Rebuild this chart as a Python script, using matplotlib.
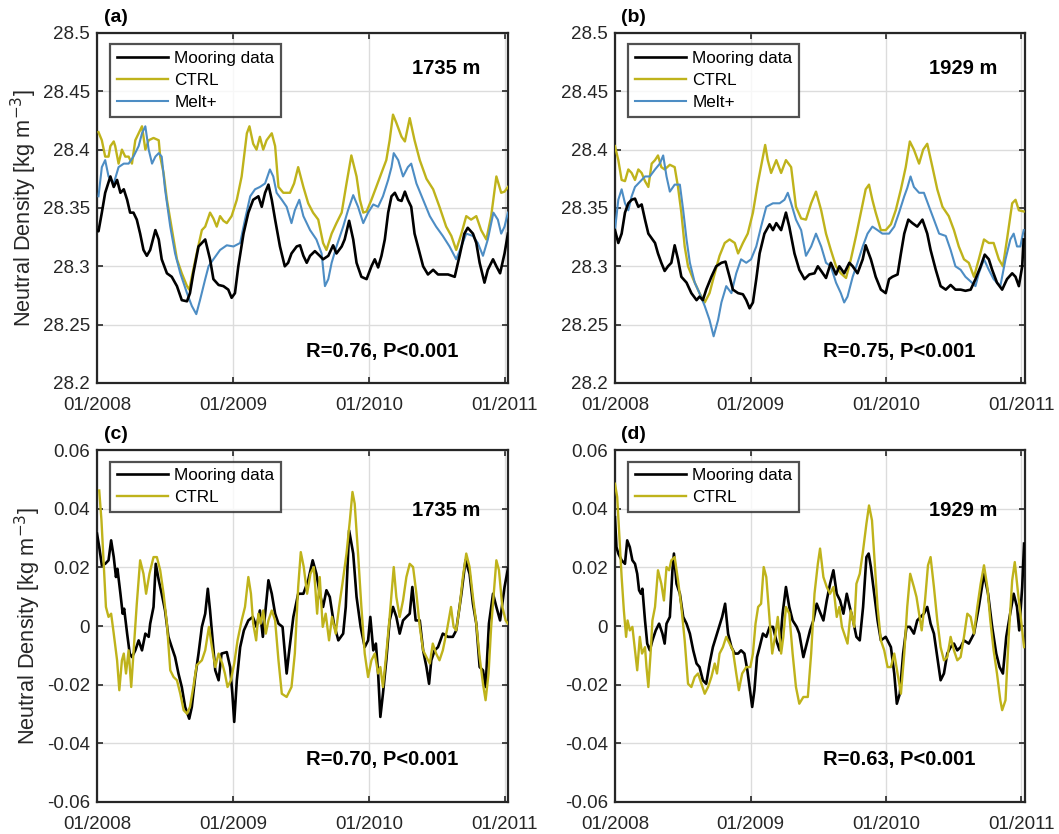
import numpy as np
import matplotlib
matplotlib.use("Agg")
import matplotlib.pyplot as plt
import matplotlib.dates as mdates
from matplotlib.ticker import FuncFormatter

plt.rcParams['font.family'] = ['Liberation Sans', 'DejaVu Sans']

# days since 01/01/2008
# ---- panel (a), 1735 m, neutral density
a_moor_day = [0, 4, 13, 22, 36, 45, 54, 63, 72, 81, 89, 98, 107, 116, 125, 134, 143, 157, 166, 174,
              188, 201, 215, 228, 242, 250, 259, 273, 291, 304, 313, 327, 340, 353, 362, 371, 380, 394,
              407, 420, 434, 443, 452, 461, 470, 479, 492, 505, 514, 523, 537, 546, 555, 564, 573, 586,
              599, 608, 622, 635, 644, 658, 666, 678, 689, 698, 711, 725, 738, 747, 756, 765, 774, 783,
              792, 801, 810, 819, 828, 836, 845, 854, 868, 877, 890, 904, 917, 930, 944, 962, 975, 988,
              997, 1011, 1020, 1029, 1042, 1051, 1065, 1074, 1084, 1096, 1105]
a_moor = [28.331, 28.330, 28.346, 28.363, 28.377, 28.368, 28.374, 28.363, 28.366, 28.357, 28.346, 28.346,
          28.340, 28.328, 28.314, 28.309, 28.314, 28.331, 28.323, 28.306, 28.294, 28.291, 28.283, 28.271,
          28.270, 28.277, 28.294, 28.317, 28.323, 28.306, 28.289, 28.284, 28.283, 28.280, 28.273, 28.277,
          28.300, 28.328, 28.346, 28.357, 28.360, 28.351, 28.363, 28.370, 28.357, 28.340, 28.317, 28.300,
          28.303, 28.311, 28.317, 28.318, 28.309, 28.303, 28.309, 28.313, 28.309, 28.306, 28.309, 28.318,
          28.311, 28.317, 28.323, 28.339, 28.323, 28.303, 28.291, 28.289, 28.300, 28.306, 28.299, 28.309,
          28.323, 28.346, 28.360, 28.363, 28.357, 28.356, 28.364, 28.357, 28.351, 28.328, 28.311, 28.300,
          28.293, 28.297, 28.293, 28.293, 28.293, 28.291, 28.309, 28.328, 28.333, 28.328, 28.320, 28.303,
          28.286, 28.297, 28.306, 28.300, 28.294, 28.311, 28.328]

a_ctrl_day = [4, 13, 22, 31, 36, 45, 49, 58, 67, 76, 85, 94, 103, 112, 121, 130, 139, 152, 166, 170, 179,
              188, 197, 206, 215, 228, 242, 248, 255, 268, 282, 291, 304, 313, 322, 331, 340, 349, 362,
              376, 389, 403, 410, 420, 429, 438, 447, 456, 470, 479, 488, 501, 519, 530, 541, 555, 568,
              581, 595, 608, 617, 631, 644, 658, 671, 684, 698, 707, 716, 725, 738, 751, 765, 778, 787,
              796, 805, 819, 828, 841, 854, 868, 886, 904, 921, 939, 953, 966, 980, 993, 1006, 1020, 1033,
              1047, 1060, 1074, 1087, 1096, 1105]
a_ctrl = [28.415, 28.408, 28.394, 28.394, 28.403, 28.407, 28.403, 28.388, 28.400, 28.394, 28.394, 28.388,
          28.408, 28.414, 28.420, 28.400, 28.408, 28.410, 28.408, 28.394, 28.380, 28.357, 28.340, 28.323,
          28.306, 28.294, 28.283, 28.280, 28.291, 28.311, 28.331, 28.334, 28.346, 28.341, 28.334, 28.343,
          28.339, 28.337, 28.343, 28.357, 28.377, 28.414, 28.420, 28.405, 28.400, 28.411, 28.400, 28.408,
          28.414, 28.403, 28.368, 28.363, 28.363, 28.371, 28.385, 28.368, 28.354, 28.346, 28.340, 28.320,
          28.314, 28.328, 28.337, 28.346, 28.371, 28.395, 28.377, 28.357, 28.346, 28.347, 28.357, 28.368,
          28.380, 28.391, 28.408, 28.430, 28.423, 28.411, 28.407, 28.427, 28.408, 28.391, 28.375, 28.366,
          28.351, 28.334, 28.326, 28.314, 28.328, 28.343, 28.340, 28.343, 28.331, 28.323, 28.343, 28.377,
          28.363, 28.364, 28.368]

a_melt_day = [4, 13, 22, 31, 45, 58, 72, 85, 98, 112, 121, 130, 139, 148, 157, 166, 174, 183, 197, 210,
              224, 242, 255, 267, 277, 291, 300, 313, 331, 349, 367, 385, 398, 412, 425, 438, 452, 465,
              474, 483, 497, 510, 523, 532, 544, 555, 573, 590, 604, 613, 622, 631, 644, 662, 675, 689,
              702, 716, 729, 743, 756, 769, 783, 792, 798, 810, 823, 836, 845, 859, 877, 895, 912, 930,
              948, 966, 980, 993, 1011, 1024, 1038, 1051, 1066, 1078, 1087, 1096, 1105]
a_melt = [28.360, 28.385, 28.391, 28.377, 28.371, 28.385, 28.388, 28.388, 28.394, 28.403, 28.414, 28.420,
          28.400, 28.388, 28.394, 28.397, 28.394, 28.366, 28.334, 28.311, 28.294, 28.277, 28.266, 28.259,
          28.271, 28.289, 28.300, 28.306, 28.314, 28.318, 28.317, 28.320, 28.340, 28.360, 28.366, 28.368,
          28.371, 28.383, 28.377, 28.363, 28.357, 28.351, 28.337, 28.348, 28.357, 28.343, 28.331, 28.323,
          28.311, 28.283, 28.289, 28.303, 28.317, 28.334, 28.348, 28.361, 28.351, 28.337, 28.346, 28.353,
          28.351, 28.360, 28.374, 28.385, 28.397, 28.391, 28.377, 28.385, 28.388, 28.371, 28.357, 28.343,
          28.334, 28.326, 28.317, 28.306, 28.317, 28.328, 28.326, 28.320, 28.309, 28.323, 28.346, 28.340,
          28.328, 28.334, 28.346]

# ---- panel (b), 1929 m, neutral density
b_moor_day = [0, 9, 18, 27, 36, 45, 54, 63, 72, 81, 90, 99, 108, 116, 125, 134, 143, 152, 161, 170, 179,
              193, 206, 220, 228, 237, 246, 260, 273, 287, 298, 309, 318, 332, 345, 354, 363, 372, 381,
              390, 403, 417, 426, 435, 448, 461, 470, 484, 497, 511, 524, 538, 547, 556, 569, 582, 596,
              605, 618, 632, 641, 654, 668, 676, 690, 703, 717, 730, 739, 748, 762, 771, 780, 791, 802,
              815, 829, 842, 851, 865, 878, 892, 905, 918, 932, 945, 959, 972, 986, 997, 1008, 1017, 1030,
              1044, 1057, 1071, 1080, 1089, 1098, 1102]
b_moor = [28.331, 28.320, 28.328, 28.346, 28.354, 28.357, 28.358, 28.351, 28.353, 28.340, 28.328, 28.324,
          28.320, 28.311, 28.303, 28.296, 28.300, 28.303, 28.318, 28.306, 28.291, 28.286, 28.277, 28.271,
          28.274, 28.271, 28.280, 28.291, 28.300, 28.303, 28.304, 28.291, 28.280, 28.277, 28.276, 28.271,
          28.264, 28.269, 28.289, 28.311, 28.328, 28.336, 28.331, 28.337, 28.331, 28.346, 28.334, 28.311,
          28.297, 28.289, 28.293, 28.294, 28.300, 28.296, 28.290, 28.303, 28.293, 28.300, 28.294, 28.303,
          28.300, 28.294, 28.306, 28.318, 28.306, 28.291, 28.280, 28.277, 28.289, 28.291, 28.293, 28.311,
          28.328, 28.340, 28.337, 28.334, 28.340, 28.328, 28.314, 28.297, 28.283, 28.280, 28.284, 28.280,
          28.280, 28.279, 28.280, 28.289, 28.300, 28.310, 28.306, 28.297, 28.286, 28.280, 28.289, 28.294,
          28.291, 28.283, 28.300, 28.323]

b_ctrl_day = [0, 9, 18, 27, 36, 45, 54, 63, 72, 81, 90, 99, 108, 116, 125, 134, 148, 161, 170, 179, 188,
              197, 211, 228, 242, 255, 269, 282, 296, 309, 323, 332, 345, 358, 372, 385, 399, 405, 412,
              421, 435, 448, 461, 475, 488, 502, 515, 529, 542, 556, 569, 582, 596, 609, 623, 636, 650,
              663, 676, 685, 694, 703, 717, 730, 744, 757, 771, 784, 795, 806, 820, 831, 842, 856, 869,
              883, 900, 914, 927, 941, 954, 968, 981, 995, 1008, 1021, 1035, 1046, 1057, 1071, 1080, 1089,
              1102]
b_ctrl = [28.403, 28.391, 28.374, 28.373, 28.383, 28.380, 28.374, 28.383, 28.380, 28.373, 28.368, 28.388,
          28.391, 28.395, 28.385, 28.383, 28.387, 28.385, 28.368, 28.346, 28.317, 28.300, 28.289, 28.277,
          28.269, 28.277, 28.294, 28.309, 28.320, 28.323, 28.320, 28.311, 28.320, 28.328, 28.346, 28.371,
          28.394, 28.404, 28.391, 28.380, 28.391, 28.380, 28.391, 28.385, 28.351, 28.341, 28.340, 28.354,
          28.364, 28.348, 28.328, 28.314, 28.300, 28.294, 28.290, 28.306, 28.326, 28.346, 28.366, 28.370,
          28.357, 28.346, 28.331, 28.331, 28.336, 28.348, 28.366, 28.385, 28.407, 28.400, 28.388, 28.400,
          28.405, 28.385, 28.366, 28.351, 28.343, 28.331, 28.317, 28.306, 28.303, 28.291, 28.306, 28.323,
          28.320, 28.320, 28.306, 28.300, 28.323, 28.354, 28.357, 28.348, 28.347]

b_melt_day = [0, 9, 18, 27, 36, 45, 54, 63, 72, 81, 94, 108, 121, 130, 139, 148, 161, 175, 184, 193, 202,
              215, 228, 242, 255, 266, 278, 287, 300, 314, 327, 340, 354, 367, 381, 394, 408, 426, 444,
              457, 466, 475, 488, 502, 515, 529, 542, 556, 569, 582, 596, 609, 618, 627, 641, 654, 668,
              681, 694, 708, 721, 739, 753, 766, 780, 788, 797, 806, 820, 833, 847, 860, 874, 892, 905,
              918, 932, 945, 959, 972, 981, 995, 1008, 1021, 1039, 1053, 1066, 1075, 1084, 1093, 1102]
b_melt = [28.331, 28.357, 28.366, 28.354, 28.348, 28.360, 28.368, 28.371, 28.374, 28.377, 28.377, 28.383,
          28.388, 28.395, 28.377, 28.364, 28.370, 28.370, 28.348, 28.323, 28.303, 28.286, 28.277, 28.266,
          28.254, 28.240, 28.254, 28.269, 28.283, 28.277, 28.294, 28.306, 28.303, 28.306, 28.317, 28.334,
          28.351, 28.354, 28.354, 28.357, 28.363, 28.354, 28.340, 28.331, 28.309, 28.317, 28.328, 28.317,
          28.303, 28.300, 28.286, 28.277, 28.269, 28.274, 28.291, 28.303, 28.317, 28.328, 28.334, 28.331,
          28.328, 28.328, 28.334, 28.346, 28.360, 28.367, 28.377, 28.368, 28.363, 28.363, 28.351, 28.340,
          28.328, 28.326, 28.314, 28.300, 28.297, 28.291, 28.287, 28.283, 28.294, 28.306, 28.297, 28.289,
          28.283, 28.306, 28.323, 28.328, 28.317, 28.317, 28.331]

# ---- panel (c), 1735 m, anomalies
c_moor_day = [0, 6, 13, 22, 31, 38, 45, 51, 55, 63, 69, 73, 81, 88, 94, 103, 112, 121, 130, 139, 143, 152,
              158, 166, 174, 183, 192, 201, 210, 219, 228, 237, 248, 255, 264, 273, 282, 291, 298, 304,
              311, 318, 327, 335, 349, 358, 364, 369, 376, 385, 395, 407, 419, 429, 438, 446, 454, 461,
              470, 479, 488, 499, 510, 517, 528, 541, 555, 568, 580, 590, 599, 608, 617, 626, 637, 649,
              662, 669, 678, 689, 698, 709, 720, 729, 735, 743, 750, 756, 762, 769, 778, 787, 796, 805,
              814, 823, 832, 841, 848, 857, 868, 877, 886, 893, 899, 908, 917, 930, 944, 957, 966, 980,
              991, 1002, 1011, 1020, 1029, 1038, 1045, 1054, 1065, 1074, 1084, 1096, 1105]
c_moor = [0.0315, 0.0269, 0.0207, 0.0212, 0.0224, 0.0292, 0.0235, 0.0167, 0.0195, 0.0110, 0.0042, 0.0059,
          -0.0026, -0.0094, -0.0106, -0.0083, -0.0049, -0.0083, -0.0026, -0.0037, 0.0008, 0.0065, 0.0212,
          0.0156, 0.0110, 0.0053, -0.0037, -0.0072, -0.0106, -0.0162, -0.0208, -0.0276, -0.0316, -0.0276,
          -0.0174, -0.0094, -0.0003, 0.0042, 0.0127, 0.0053, -0.0049, -0.0151, -0.0185, -0.0094, -0.0089,
          -0.0140, -0.0231, -0.0327, -0.0185, -0.0072, -0.0015, 0.0019, 0.0031, -0.0003, 0.0053, -0.0037,
          0.0065, 0.0156, 0.0110, 0.0042, 0.0008, -0.0003, -0.0162, -0.0083, 0.0031, 0.0110, 0.0110, 0.0156,
          0.0224, 0.0178, 0.0110, 0.0065, 0.0122, 0.0099, 0.0008, -0.0049, -0.0026, 0.0065, 0.0326, 0.0247,
          0.0099, -0.0003, -0.0072, -0.0049, 0.0031, -0.0083, -0.0060, -0.0162, -0.0310, -0.0231, -0.0117,
          0.0019, 0.0065, 0.0031, -0.0026, 0.0019, 0.0031, 0.0042, 0.0133, 0.0019, 0.0019, -0.0083, -0.0140,
          -0.0197, -0.0117, -0.0083, -0.0072, -0.0026, -0.0037, -0.0037, -0.0015, 0.0110, 0.0224, 0.0178,
          0.0076, 0.0008, -0.0140, -0.0151, -0.0208, 0.0008, 0.0110, 0.0065, 0.0019, 0.0133, 0.0195]

c_ctrl_day = [6, 12, 18, 24, 31, 38, 45, 54, 60, 67, 72, 78, 85, 92, 98, 107, 116, 125, 132, 141, 152, 161,
              170, 179, 188, 197, 206, 215, 224, 233, 242, 250, 259, 268, 282, 291, 301, 309, 318, 327,
              337, 344, 351, 360, 369, 378, 389, 398, 407, 414, 420, 428, 434, 440, 447, 454, 461, 470,
              479, 488, 497, 510, 523, 532, 541, 548, 556, 565, 574, 583, 592, 599, 607, 615, 624, 632,
              642, 651, 660, 671, 680, 687, 693, 702, 711, 720, 729, 738, 747, 756, 762, 769, 778, 787,
              798, 805, 814, 823, 832, 841, 850, 859, 868, 877, 886, 895, 903, 912, 921, 930, 941, 952,
              959, 966, 975, 984, 993, 1002, 1011, 1020, 1029, 1038, 1045, 1053, 1060, 1067, 1074, 1081,
              1090, 1099, 1105]
c_ctrl = [0.0462, 0.0360, 0.0212, 0.0065, 0.0031, 0.0042, -0.0026, -0.0117, -0.0219, -0.0117, -0.0094,
          -0.0162, -0.0083, -0.0208, -0.0094, 0.0076, 0.0224, 0.0178, 0.0110, 0.0178, 0.0235, 0.0235,
          0.0190, 0.0110, 0.0008, -0.0151, -0.0174, -0.0185, -0.0231, -0.0287, -0.0299, -0.0276, -0.0208,
          -0.0134, -0.0117, -0.0083, -0.0003, -0.0072, -0.0140, -0.0094, -0.0128, -0.0162, -0.0208,
          -0.0185, -0.0128, -0.0049, 0.0019, 0.0065, 0.0167, 0.0110, 0.0008, -0.0049, 0.0042, 0.0008,
          0.0053, -0.0026, 0.0019, 0.0053, 0.0019, -0.0117, -0.0231, -0.0242, -0.0208, -0.0094, 0.0133,
          0.0252, 0.0201, 0.0110, 0.0178, 0.0201, 0.0042, 0.0167, -0.0003, 0.0042, -0.0049, 0.0031,
          -0.0026, 0.0065, 0.0144, 0.0247, 0.0360, 0.0457, 0.0417, 0.0247, 0.0065, -0.0094, -0.0174,
          -0.0117, -0.0094, -0.0162, -0.0140, -0.0208, -0.0094, 0.0031, 0.0201, 0.0099, 0.0031, 0.0087,
          0.0167, 0.0212, 0.0201, 0.0110, -0.0003, -0.0083, -0.0106, -0.0128, -0.0060, -0.0094, -0.0117,
          -0.0083, -0.0015, 0.0065, -0.0003, -0.0015, 0.0065, 0.0167, 0.0247, 0.0201, 0.0099, 0.0008,
          -0.0106, -0.0197, -0.0253, -0.0162, -0.0003, 0.0110, 0.0224, 0.0190, 0.0065, 0.0019, 0.0008]

# ---- panel (d), 1929 m, anomalies
d_moor_day = [0, 4, 9, 18, 27, 33, 40, 47, 54, 60, 65, 70, 74, 81, 87, 94, 101, 110, 119, 128, 134, 139,
              148, 155, 159, 166, 175, 184, 193, 202, 211, 220, 228, 237, 246, 255, 264, 278, 289, 297,
              305, 314, 323, 332, 340, 349, 357, 363, 370, 376, 383, 390, 399, 408, 417, 426, 435, 444,
              452, 461, 470, 479, 490, 497, 508, 517, 526, 535, 544, 551, 562, 571, 580, 589, 598, 607,
              616, 625, 633, 642, 651, 660, 669, 678, 684, 690, 699, 708, 717, 730, 744, 753, 760, 768,
              777, 786, 795, 806, 815, 824, 833, 842, 851, 860, 869, 878, 887, 896, 905, 914, 923, 932,
              941, 954, 968, 981, 995, 1006, 1017, 1028, 1037, 1046, 1055, 1064, 1075, 1084, 1090, 1098,
              1103]
d_moor = [0.0371, 0.0269, 0.0247, 0.0224, 0.0212, 0.0292, 0.0269, 0.0224, 0.0212, 0.0178, 0.0122, 0.0110,
          0.0127, 0.0019, -0.0060, -0.0083, -0.0049, -0.0015, 0.0008, -0.0026, -0.0060, 0.0008, 0.0031,
          0.0190, 0.0247, 0.0144, 0.0110, 0.0031, 0.0008, -0.0026, -0.0083, -0.0128, -0.0140, -0.0185,
          -0.0197, -0.0128, -0.0072, -0.0015, 0.0031, 0.0076, -0.0026, -0.0072, -0.0094, -0.0094, -0.0083,
          -0.0094, -0.0151, -0.0208, -0.0276, -0.0219, -0.0106, -0.0072, -0.0026, -0.0037, -0.0003,
          -0.0003, -0.0049, -0.0083, 0.0042, 0.0133, 0.0065, 0.0019, -0.0003, -0.0026, -0.0106, -0.0060,
          -0.0015, 0.0019, 0.0076, 0.0053, 0.0019, 0.0087, 0.0144, 0.0190, 0.0110, 0.0087, 0.0042, 0.0110,
          0.0065, 0.0019, -0.0037, -0.0049, 0.0065, 0.0235, 0.0247, 0.0201, 0.0110, 0.0019, -0.0049,
          -0.0037, -0.0072, -0.0162, -0.0265, -0.0231, -0.0094, -0.0003, -0.0003, -0.0026, 0.0019, 0.0031,
          0.0042, 0.0065, 0.0008, -0.0026, -0.0106, -0.0185, -0.0162, -0.0094, -0.0072, -0.0060, -0.0083,
          -0.0072, -0.0049, -0.0060, -0.0026, 0.0065, 0.0178, 0.0110, -0.0003, -0.0094, -0.0140, -0.0162,
          -0.0037, 0.0031, 0.0110, 0.0065, -0.0015, 0.0133, 0.0281]

d_ctrl_day = [0, 6, 12, 18, 24, 30, 34, 40, 47, 53, 60, 67, 73, 81, 85, 90, 96, 101, 108, 116, 125, 132,
              139, 146, 152, 161, 170, 179, 188, 197, 206, 215, 224, 233, 242, 251, 260, 269, 275, 282,
              291, 300, 309, 318, 327, 334, 343, 354, 365, 372, 379, 386, 394, 401, 408, 417, 424, 433,
              439, 448, 454, 461, 470, 479, 488, 497, 508, 520, 529, 538, 547, 553, 562, 571, 580, 589,
              598, 605, 612, 621, 627, 636, 645, 651, 660, 669, 678, 685, 693, 700, 708, 717, 726, 735,
              744, 753, 762, 771, 780, 788, 796, 806, 813, 820, 827, 836, 844, 851, 860, 869, 878, 887,
              896, 905, 914, 923, 932, 941, 950, 959, 968, 977, 986, 995, 1004, 1012, 1021, 1030, 1039,
              1044, 1053, 1062, 1071, 1078, 1087, 1096, 1103]
d_ctrl = [0.0485, 0.0440, 0.0304, 0.0167, 0.0053, -0.0037, 0.0019, -0.0015, -0.0003, -0.0072, -0.0151,
          -0.0037, -0.0094, -0.0072, -0.0140, -0.0208, -0.0094, 0.0019, 0.0065, 0.0190, 0.0144, 0.0087,
          0.0201, 0.0190, 0.0224, 0.0235, 0.0156, 0.0065, -0.0049, -0.0197, -0.0208, -0.0174, -0.0162,
          -0.0197, -0.0231, -0.0208, -0.0174, -0.0128, -0.0162, -0.0094, -0.0072, -0.0037, -0.0060,
          -0.0083, -0.0162, -0.0219, -0.0162, -0.0140, -0.0140, -0.0094, 0.0008, 0.0065, 0.0076, 0.0201,
          0.0167, 0.0019, -0.0094, -0.0026, 0.0031, -0.0094, -0.0037, 0.0065, 0.0042, -0.0094, -0.0208,
          -0.0265, -0.0242, -0.0242, -0.0094, 0.0110, 0.0212, 0.0264, 0.0167, 0.0133, 0.0110, 0.0133,
          0.0031, 0.0065, -0.0003, -0.0037, -0.0060, 0.0053, -0.0003, 0.0144, 0.0178, 0.0258, 0.0349,
          0.0411, 0.0360, 0.0224, 0.0065, -0.0049, -0.0083, -0.0140, -0.0140, -0.0094, -0.0162, -0.0231,
          -0.0094, 0.0065, 0.0178, 0.0133, 0.0099, 0.0042, -0.0015, 0.0087, 0.0207, 0.0235, 0.0133,
          0.0019, -0.0072, -0.0117, -0.0106, -0.0037, -0.0083, -0.0117, -0.0106, -0.0037, 0.0042, 0.0031,
          -0.0026, 0.0065, 0.0144, 0.0207, 0.0133, 0.0019, -0.0083, -0.0162, -0.0253, -0.0287, -0.0253,
          -0.0026, 0.0156, 0.0218, 0.0110, 0.0008, -0.0072]

panel_labels = ['(a)', '(b)', '(c)', '(d)']
depths = ['1735 m', '1929 m', '1735 m', '1929 m']
stats = ['R=0.76, P<0.001', 'R=0.75, P<0.001', 'R=0.70, P<0.001', 'R=0.63, P<0.001']

black = 'black'
yellow = '#BFB31B'
blue = '#4D8DC4'

t0 = np.datetime64('2008-01-01')


def to_dates(days):
    return t0 + np.array(days).astype('timedelta64[D]')


fig = plt.figure(figsize=(10.59, 8.34), dpi=100)
ax_a = fig.add_axes([0.0916, 0.5408, 0.388, 0.4197])
ax_b = fig.add_axes([0.5807, 0.5408, 0.387, 0.4197])
ax_c = fig.add_axes([0.0916, 0.0384, 0.388, 0.4220])
ax_d = fig.add_axes([0.5807, 0.0384, 0.387, 0.4220])
axes = [ax_a, ax_b, ax_c, ax_d]

ax_a.plot(to_dates(a_moor_day), a_moor, color=black, lw=1.9, label='Mooring data', zorder=4)
ax_a.plot(to_dates(a_ctrl_day), a_ctrl, color=yellow, lw=1.7, label='CTRL', zorder=3)
ax_a.plot(to_dates(a_melt_day), a_melt, color=blue, lw=1.5, label='Melt+', zorder=3)

ax_b.plot(to_dates(b_moor_day), b_moor, color=black, lw=1.9, label='Mooring data', zorder=4)
ax_b.plot(to_dates(b_ctrl_day), b_ctrl, color=yellow, lw=1.7, label='CTRL', zorder=3)
ax_b.plot(to_dates(b_melt_day), b_melt, color=blue, lw=1.5, label='Melt+', zorder=3)

ax_c.plot(to_dates(c_moor_day), c_moor, color=black, lw=1.9, label='Mooring data', zorder=3)
ax_c.plot(to_dates(c_ctrl_day), c_ctrl, color=yellow, lw=1.7, label='CTRL', zorder=4)

ax_d.plot(to_dates(d_moor_day), d_moor, color=black, lw=1.9, label='Mooring data', zorder=3)
ax_d.plot(to_dates(d_ctrl_day), d_ctrl, color=yellow, lw=1.7, label='CTRL', zorder=4)

fmt = FuncFormatter(lambda v, p: '%g' % round(v, 4))
xticks = [np.datetime64('2008-01-01'), np.datetime64('2009-01-01'),
          np.datetime64('2010-01-01'), np.datetime64('2011-01-01')]

for i, ax in enumerate(axes):
    ax.set_xlim(np.datetime64('2008-01-01'), np.datetime64('2011-01-10'))
    if i < 2:
        ax.set_ylim(28.2, 28.5)
        ax.set_yticks(np.arange(28.2, 28.501, 0.05))
        txt_y = 0.897
        st_y = 0.091
    else:
        ax.set_ylim(-0.06, 0.06)
        ax.set_yticks(np.arange(-0.06, 0.0601, 0.02))
        txt_y = 0.827
        st_y = 0.12
    ax.yaxis.set_major_formatter(fmt)
    ax.set_xticks(xticks)
    ax.xaxis.set_major_formatter(mdates.DateFormatter('%m/%Y'))
    ax.grid(True, color='#dcdcdc', lw=1.0)
    ax.set_axisbelow(True)
    ax.tick_params(direction='in', length=4, width=1.2, top=True, right=True,
                   labelsize=13.5, colors='#262626', labelcolor='#262626')
    ax.tick_params(axis='y', pad=5)
    ax.tick_params(axis='x', pad=10)
    for s in ax.spines.values():
        s.set_linewidth(1.6)
        s.set_color('#262626')
    leg = ax.legend(loc='upper left', bbox_to_anchor=(0.032, 0.967), borderaxespad=0,
                    fontsize=12.3, frameon=True, fancybox=False, handlelength=3.0,
                    handletextpad=0.35, borderpad=0.4, labelspacing=0.4)
    leg.get_frame().set_edgecolor('#262626')
    leg.get_frame().set_linewidth(1.6)
    ax.text(0.85, txt_y, depths[i], transform=ax.transAxes, ha='center', va='center',
            fontsize=14.5, fontweight='bold')
    ax.text(0.693, st_y, stats[i], transform=ax.transAxes, ha='center', va='center',
            fontsize=14.5, fontweight='bold')
    ax.text(0.045, 1.044, panel_labels[i], transform=ax.transAxes, ha='center', va='center',
            fontsize=14, fontweight='bold')

ax_a.set_ylabel('Neutral Density [kg m$^{-3}$]', fontsize=15.7, color='#262626', labelpad=3)
ax_c.set_ylabel('Neutral Density [kg m$^{-3}$]', fontsize=15.7, color='#262626', labelpad=3)

fig.savefig('out.png', dpi=100)
